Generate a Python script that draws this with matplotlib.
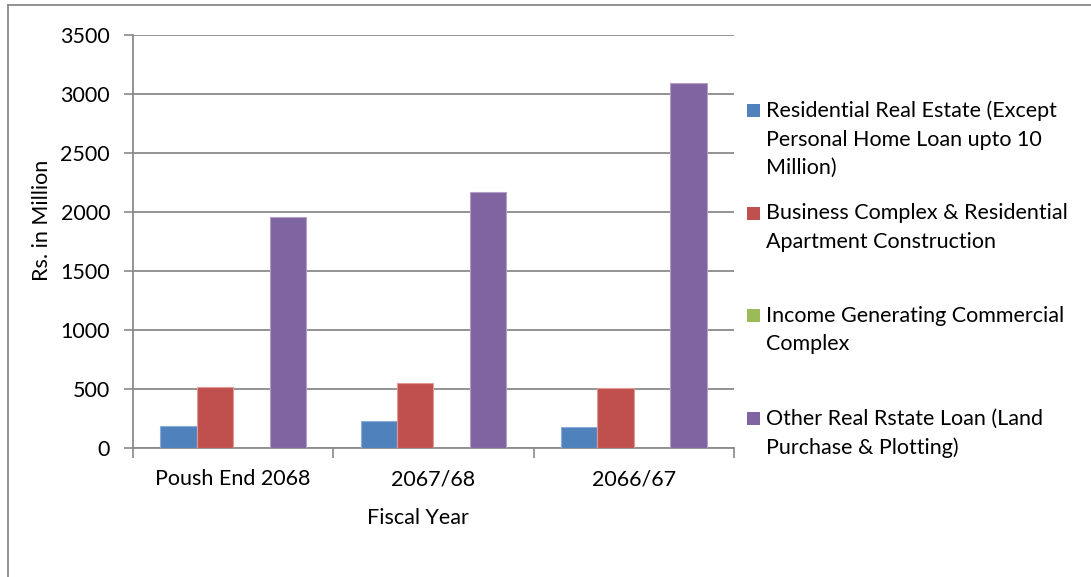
import matplotlib.pyplot as plt
import numpy as np
from matplotlib.lines import Line2D
from matplotlib.patches import Rectangle

plt.rcParams['font.family'] = ['Lato', 'DejaVu Sans']
plt.rcParams['font.size'] = 15.5

# Real estate loan portfolio by fiscal year (Rs. in Million)
years = ['Poush End 2068', '2067/68', '2066/67']
series_names = [
    'Residential Real Estate (Except\nPersonal Home Loan upto 10\nMillion)',
    'Business Complex & Residential\nApartment Construction',
    'Income Generating Commercial\nComplex',
    'Other Real Rstate Loan (Land\nPurchase & Plotting)',
]
residential = [189, 229, 183]
business_complex = [522, 555, 508]
income_generating = [0, 0, 0]
other_real_estate = [1961, 2170, 3091]

values = [residential, business_complex, income_generating, other_real_estate]
colors = ['#4F81BD', '#C0504D', '#9BBB59', '#8064A2']
edges = ['#8AACD8', '#E09A98', '#C3D69B', '#B2A1C7']

W, H = 1091, 577
fig = plt.figure(figsize=(W / 100, H / 100), dpi=100)
ax = fig.add_axes([133 / W, 1 - 448.3 / H, 601 / W, 413.3 / H])

# clustered bars, Excel-style gap width of 150%
n = len(values)
bw = 1 / (n + 1.5)
x = np.arange(len(years))
for i, (vals, c, ec) in enumerate(zip(values, colors, edges)):
    offs = (i - (n - 1) / 2) * bw
    ax.bar(x + offs, vals, width=bw, color=c, edgecolor=ec, linewidth=0.8, zorder=3)

ax.set_xlim(-0.5, len(years) - 0.5)
ax.set_ylim(0, 3500)
ax.set_yticks(np.arange(0, 3501, 500))
ax.yaxis.grid(True, color='#8a8a8a', linewidth=1.3, zorder=0)

# category boundaries as ticks, labels at the centres
ax.set_xticks(np.arange(-0.5, len(years), 1))
ax.set_xticklabels([])
ax.set_xticks(x, minor=True)
ax.set_xticklabels(years, minor=True)
ax.tick_params(axis='x', which='major', direction='out', length=7, width=1.2, color='#8a8a8a')
ax.tick_params(axis='x', which='minor', length=0, pad=15)
ax.tick_params(axis='y', direction='out', length=6.5, width=1.2, color='#8a8a8a', pad=10)

for s in ['top', 'right']:
    ax.spines[s].set_visible(False)
for s in ['left', 'bottom']:
    ax.spines[s].set_color('#8a8a8a')
    ax.spines[s].set_linewidth(1.3)

ax.set_ylabel('Rs. in Million')
ax.yaxis.set_label_coords(-0.135, 0.552)
ax.set_xlabel('Fiscal Year')
ax.xaxis.set_label_coords(0.474, -0.144)

# legend on the right, one slot per series
for i, (name, c) in enumerate(zip(series_names, colors)):
    yc = 110.5 + 102.7 * i
    fig.patches.append(Rectangle((747 / W, 1 - (yc + 6.5) / H), 13 / W, 13 / H,
                                 transform=fig.transFigure, facecolor=c, edgecolor='none'))
    fig.text(766 / W, 1 - (yc - 10) / H, name, ha='left', va='top', linespacing=1.53)

# chart area border
fig.add_artist(Line2D([8 / W, 8 / W], [0, 1 - 5 / H], transform=fig.transFigure,
                      color='#8a8a8a', linewidth=1.3))
fig.add_artist(Line2D([8 / W, 1], [1 - 5 / H, 1 - 5 / H], transform=fig.transFigure,
                      color='#8a8a8a', linewidth=1.3))

fig.savefig('out.png', dpi=100)
